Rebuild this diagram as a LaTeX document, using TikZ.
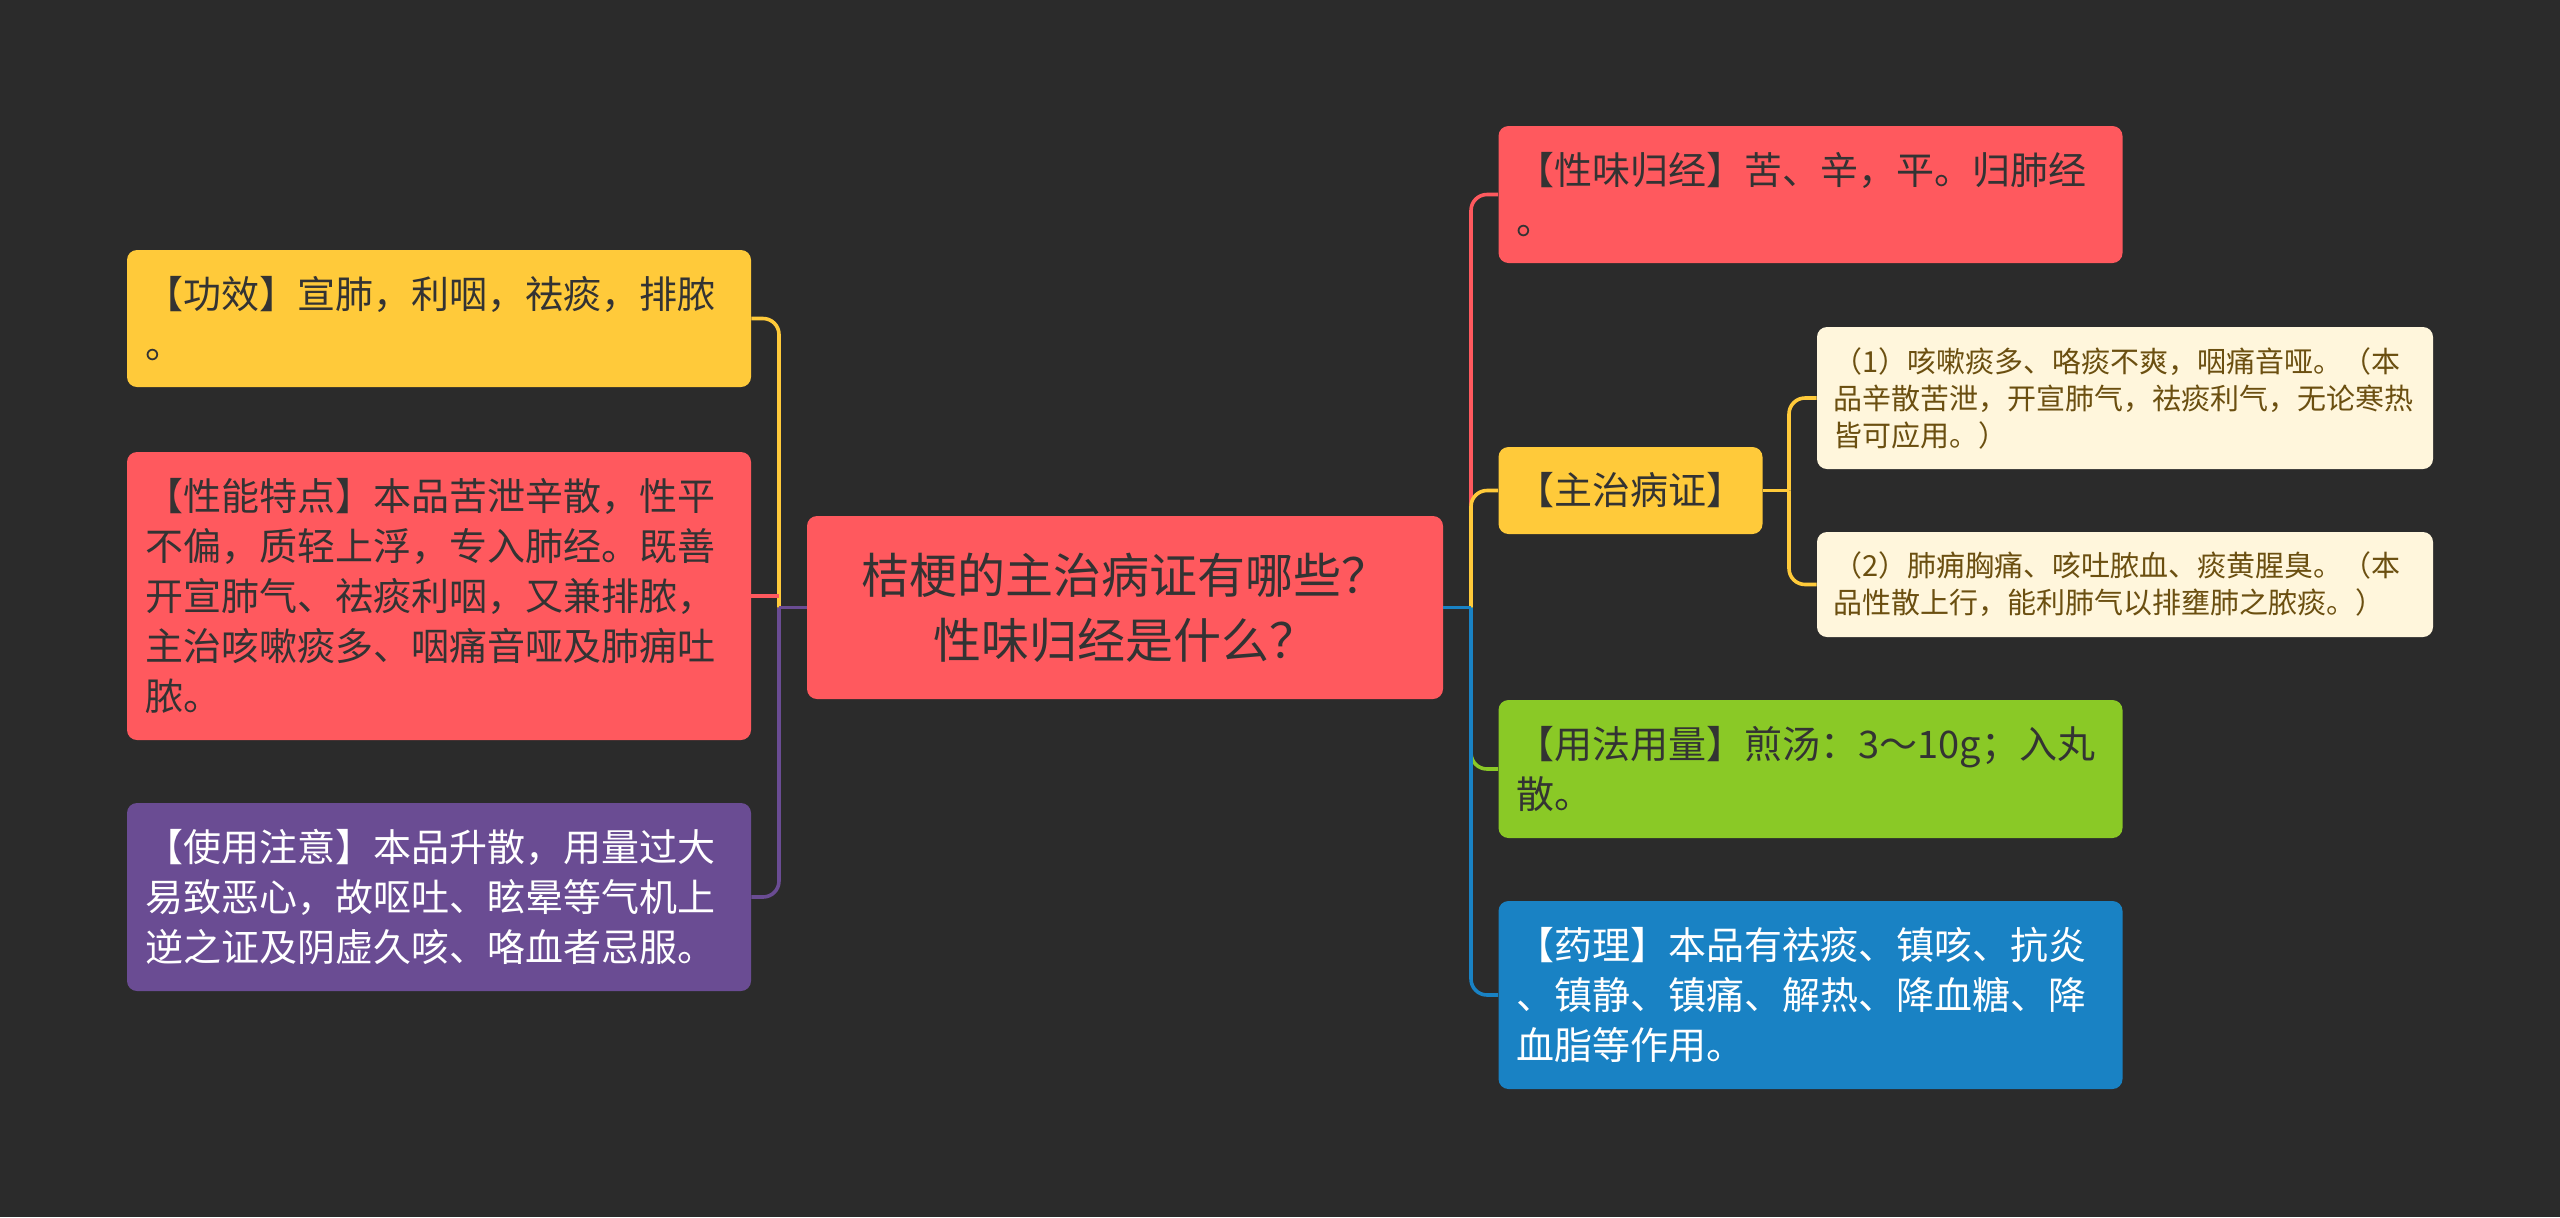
\documentclass[tikz,border=0pt]{standalone}
\usepackage{fontspec}
\setmainfont{Noto Sans CJK SC}
\definecolor{bgc}{HTML}{2B2B2B}
\definecolor{cred}{HTML}{FF595E}
\definecolor{cyel}{HTML}{FFCA3A}
\definecolor{cgrn}{HTML}{8AC926}
\definecolor{cblu}{HTML}{1982C4}
\definecolor{cpur}{HTML}{6A4C93}
\definecolor{ccrm}{HTML}{FFF6DC}
\definecolor{tdark}{HTML}{333333}
\definecolor{tbrown}{HTML}{6B4F10}
\tikzset{
  box/.style={rounded corners=5pt, inner xsep=9pt, inner ysep=0pt, align=left, anchor=center},
  mainbox/.style={box, minimum width=312pt, text width=294pt, font=\fontsize{19}{25}\selectfont},
  subbox/.style={box, fill=ccrm, text=tbrown, minimum width=308pt, text width=292pt, inner xsep=8pt, font=\fontsize{14.5}{18.5}\selectfont},
  conn/.style={line width=1.8pt, rounded corners=8pt},
}
\begin{document}
\begin{tikzpicture}[x=0.5pt, y=-0.5pt]
\fill[bgc] (0,0) rectangle (2560,1217);
\useasboundingbox (0,0) rectangle (2560,1217);

% center
\node[box, fill=cred, text=tdark, minimum width=318pt, minimum height=91.5pt, text width=300pt, align=center, font=\fontsize{24}{32.5}\selectfont] (c) at (1125,607.5) {桔梗的主治病证有哪些？\\性味归经是什么？};

% left nodes
\node[mainbox, fill=cyel, text=tdark, minimum height=68.5pt] (n1) at (439,318.5) {【功效】宣肺，利咽，祛痰，排脓\\。};
\node[mainbox, fill=cred, text=tdark, minimum height=144pt] (n2) at (439,596) {【性能特点】本品苦泄辛散，性平\\不偏，质轻上浮，专入肺经。既善\\开宣肺气、祛痰利咽，又兼排脓，\\主治咳嗽痰多、咽痛音哑及肺痈吐\\脓。};
\node[mainbox, fill=cpur, text=white, minimum height=94pt] (n3) at (439,897) {【使用注意】本品升散，用量过大\\易致恶心，故呕吐、眩晕等气机上\\逆之证及阴虚久咳、咯血者忌服。};

% right nodes
\node[mainbox, fill=cred, text=tdark, minimum width=311.5pt, minimum height=68.5pt] (r1) at (1810.5,194.5) {【性味归经】苦、辛，平。归肺经\\。};
\node[box, fill=cyel, text=tdark, minimum width=131.5pt, minimum height=43.5pt, font=\fontsize{19}{25}\selectfont] (r2) at (1630.5,490.5) {【主治病证】};
\node[subbox, minimum height=71pt] (s1) at (2125,398) {（1）咳嗽痰多、咯痰不爽，咽痛音哑。（本\\品辛散苦泄，开宣肺气，祛痰利气，无论寒热\\皆可应用。）};
\node[subbox, minimum height=52.5pt] (s2) at (2125,584.5) {（2）肺痈胸痛、咳吐脓血、痰黄腥臭。（本\\品性散上行，能利肺气以排壅肺之脓痰。）};
\node[mainbox, fill=cgrn, text=tdark, minimum width=311.5pt, minimum height=69pt] (r3) at (1810.5,769) {【用法用量】煎汤：3～10g；入丸\\散。};
\node[mainbox, fill=cblu, text=white, minimum width=311.5pt, minimum height=94pt] (r4) at (1810.5,995) {【药理】本品有祛痰、镇咳、抗炎\\、镇静、镇痛、解热、降血糖、降\\血脂等作用。};

% junctions
\coordinate (lj) at (779,607.5);
\coordinate (rj) at (1471,607.5);
\coordinate (sj) at (1789,490.5);
\coordinate (lr) at (779,596);

% left connectors
\draw[conn, cyel] (lj) |- (n1.east);
\draw[conn, cred] (n2.east) -- (lr);
\draw[conn, cpur] (lj) |- (n3.east);
\draw[conn, cpur] (c.west) -- (lj);

% right connectors
\draw[conn, cred] (rj) |- (r1.west);
\draw[conn, cyel] (rj) |- (r2.west);
\draw[conn, cgrn] (rj) |- (r3.west);
\draw[conn, cblu] (rj) |- (r4.west);
\draw[conn, cblu] (c.east) -- (rj);

% sub connectors
\draw[conn, cyel] (r2.east) -- (sj);
\draw[conn, cyel] (sj) |- (s1.west);
\draw[conn, cyel] (sj) |- (s2.west);
\end{tikzpicture}
\end{document}
